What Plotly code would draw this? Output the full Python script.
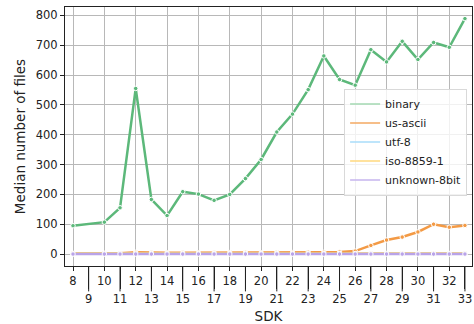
import plotly.graph_objects as go

sdk = [8, 10, 11, 12, 13, 14, 15, 16, 17, 18, 19, 20, 21, 22, 23, 24, 25, 26, 27, 28, 29, 30, 31, 32, 33]
binary = [95, 107, 155, 555, 183, 129, 209, 201, 180, 200, 253, 317, 409, 469, 551, 664, 585, 566, 685, 644, 713, 652, 709, 693, 789]
us_ascii = [2, 2, 3, 6, 4, 4, 4, 4, 4, 5, 5, 4, 5, 5, 6, 6, 7, 10, 29, 47, 57, 74, 100, 90, 96]
utf_8 = [1, 1, 1, 1, 1, 1, 1, 1, 1, 1, 1, 1, 1, 1, 1, 1, 1, 1, 1, 1, 1, 1, 1, 1, 1]
iso_8859_1 = [2, 2, 2, 3, 2, 2, 2, 2, 2, 2, 2, 2, 2, 2, 2, 2, 2, 2, 2, 2, 2, 2, 2, 2, 2]
unknown_8bit = [0, 0, 0, 0, 0, 0, 0, 0, 0, 0, 0, 0, 0, 0, 0, 0, 0, 0, 0, 0, 0, 0, 0, 0, 0]

names = ["binary", "us-ascii", "utf-8", "iso-8859-1", "unknown-8bit"]
series = [binary, us_ascii, utf_8, iso_8859_1, unknown_8bit]
line_colors = ["#5cb87a", "#f39a45", "#8fcff5", "#fecf6a", "#b9a3e8"]
legend_colors = ["#a3d9b2", "#f3a862", "#a8dcfa", "#ffd97e", "#c6b4ee"]

even_ticks = [8, 10, 12, 14, 16, 18, 20, 22, 24, 26, 28, 30, 32]
odd_ticks = [9, 11, 13, 15, 17, 19, 21, 23, 25, 27, 29, 31, 33]
y_ticks = [0, 100, 200, 300, 400, 500, 600, 700, 800]

FONT = "DejaVu Sans"
TXT = "#222"
fig = go.Figure()

for name, vals, col in zip(names, series, line_colors):
    fig.add_trace(go.Scatter(
        x=sdk, y=vals, mode="lines+markers", name=name, showlegend=False,
        line=dict(color=col, width=2.5),
        marker=dict(size=4.5, color=col, line=dict(color="white", width=1)),
    ))

for name, col in zip(names, legend_colors):
    fig.add_trace(go.Scatter(
        x=[None], y=[None], mode="lines", name=name,
        line=dict(color=col, width=1.5),
    ))

fig.add_trace(go.Scatter(x=[sdk[0]], y=[None], xaxis="x2", showlegend=False,
                         hoverinfo="skip", mode="lines"))

# long tick marks for the odd (second-row) labels
for t in odd_ticks:
    fig.add_shape(type="line", xref="x", yref="paper", x0=t, x1=t, y0=0, y1=-0.098,
                  line=dict(color=TXT, width=1))

fig.update_layout(
    width=474, height=324,
    margin=dict(l=65, r=2, t=7, b=58),
    paper_bgcolor="white", plot_bgcolor="white",
    font=dict(family=FONT, size=11, color=TXT),
    showlegend=True,
    legend=dict(
        x=0.988, y=0.685, xanchor="right", yanchor="top",
        bgcolor="rgba(255,255,255,0.8)", bordercolor="#d9d9d9", borderwidth=1,
        font=dict(family=FONT, size=11, color=TXT),
        itemwidth=30, tracegroupgap=0,
    ),
    xaxis=dict(
        range=[7.49, 33.45],
        tickmode="array", tickvals=even_ticks, ticktext=[str(v) for v in even_ticks],
        ticks="outside", ticklen=4, tickcolor=TXT, tickwidth=1,
        showgrid=True, gridcolor="#b8b8b8", gridwidth=1,
        showline=True, linecolor=TXT, linewidth=1.2, mirror=True,
        zeroline=False,
        title=dict(text="SDK", font=dict(family=FONT, size=13.5, color=TXT), standoff=24),
        tickfont=dict(family=FONT, size=11.5, color=TXT),
    ),
    xaxis2=dict(
        overlaying="x", matches="x", anchor="y", side="bottom",
        tickmode="array", tickvals=odd_ticks, ticktext=[str(v) for v in odd_ticks],
        ticks="outside", ticklen=22, tickcolor=TXT, tickwidth=1,
        showgrid=False, showline=False, zeroline=False,
        tickfont=dict(family=FONT, size=11.5, color=TXT),
    ),
    yaxis=dict(
        range=[-40, 828],
        tickmode="array", tickvals=y_ticks,
        ticks="outside", ticklen=4, tickcolor=TXT, tickwidth=1,
        showgrid=True, gridcolor="#b8b8b8", gridwidth=1,
        showline=True, linecolor=TXT, linewidth=1.2, mirror=True,
        zeroline=False,
        title=dict(text="Median number of files", font=dict(family=FONT, size=13.5, color=TXT), standoff=6),
        tickfont=dict(family=FONT, size=11.5, color=TXT),
    ),
)

fig.write_html("out.html", config={"displayModeBar": False},
               post_script="document.body.style.margin='0';document.body.style.overflow='hidden';")
